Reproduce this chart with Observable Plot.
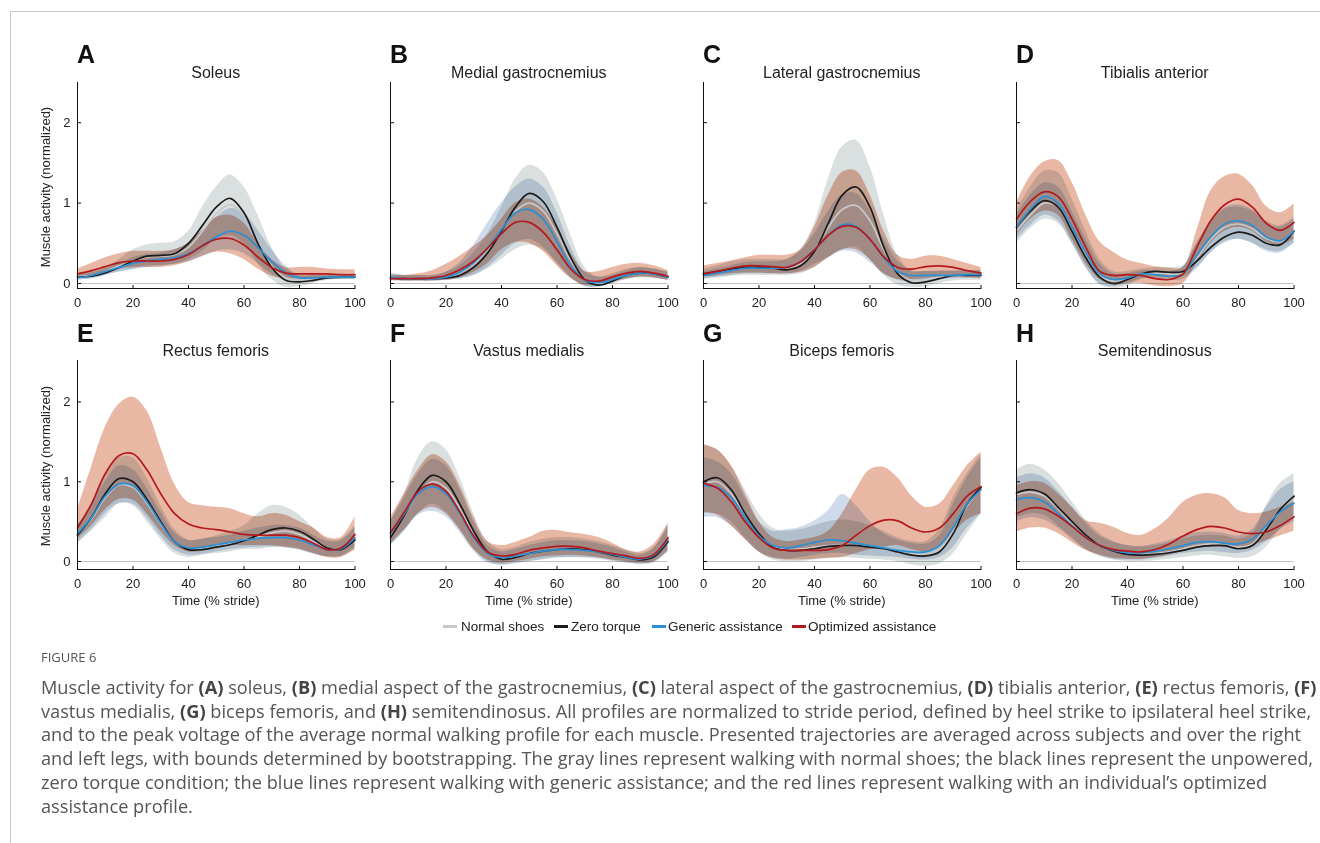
<!DOCTYPE html>
<html>
<head>
<meta charset="utf-8">
<script src="https://cdn.jsdelivr.net/npm/d3@7"></script>
<script src="https://cdn.jsdelivr.net/npm/@observablehq/plot@0.6"></script>
<style>
  html, body { margin: 0; padding: 0; background: #fff; }
  body { width: 1320px; height: 843px; position: relative; overflow: hidden; font-family: "Liberation Sans", Arial, sans-serif; color: #222; }
  .abs { position: absolute; white-space: nowrap; }
  .frame { position: absolute; left: 10px; top: 11px; width: 1310px; height: 832px; border-top: 1.5px solid #c6c6c6; border-left: 1.5px solid #c6c6c6; }
  .letter { font-weight: bold; font-size: 25px; line-height: 1; color: #111; }
  .title { font-size: 16px; line-height: 1; color: #222; transform: translateX(-50%); }
  .ylab { font-size: 13px; line-height: 1; transform: translate(-50%, -50%) rotate(-90deg); }
  .xlab { font-size: 13px; line-height: 1; transform: translate(-50%, -50%); }
  .leg { font-size: 13.5px; line-height: 1; transform: translateY(-50%); color: #222; }
  .sw { position: absolute; width: 14px; height: 3px; }
  .cap { font-family: "Open Sans", sans-serif; color: #555; }
  .cap b { font-weight: 700; color: #444; }
</style>
</head>
<body>
<div class="frame"></div>
<script>
// ---------- data ----------
const stride = [0,5,10,15,20,25,30,35,40,45,50,55,60,65,70,75,80,85,90,95,100];
const xTicks = [0,20,40,60,80,100];
const yTicks = [0,1,2];
const conditions = ["Normal shoes","Zero torque","Generic assistance","Optimized assistance"];
const panelLetters = ["A","B","C","D","E","F","G","H"];
const panelTitles = ["Soleus","Medial gastrocnemius","Lateral gastrocnemius","Tibialis anterior","Rectus femoris","Vastus medialis","Biceps femoris","Semitendinosus"];

// A Soleus
const soleusNormal = [0.09,0.10,0.15,0.22,0.28,0.33,0.34,0.36,0.45,0.65,0.87,0.98,0.85,0.52,0.22,0.07,0.04,0.05,0.07,0.08,0.08];
const soleusZero = [0.08,0.09,0.13,0.20,0.28,0.34,0.35,0.37,0.50,0.72,0.95,1.06,0.88,0.50,0.20,0.04,0.02,0.04,0.07,0.08,0.08];
const soleusGeneric = [0.07,0.10,0.15,0.20,0.25,0.28,0.30,0.32,0.37,0.47,0.58,0.65,0.60,0.45,0.27,0.13,0.07,0.07,0.08,0.08,0.08];
const soleusOptimized = [0.12,0.16,0.21,0.26,0.28,0.28,0.28,0.30,0.36,0.47,0.55,0.56,0.48,0.33,0.20,0.13,0.12,0.12,0.12,0.11,0.11];
const soleusNormalLo = [0.06,0.06,0.10,0.15,0.18,0.22,0.22,0.24,0.30,0.40,0.55,0.60,0.50,0.25,0.05,-0.05,-0.04,0.00,0.04,0.05,0.05];
const soleusNormalHi = [0.12,0.15,0.20,0.30,0.42,0.48,0.50,0.52,0.65,0.95,1.20,1.35,1.20,0.85,0.45,0.18,0.10,0.10,0.10,0.10,0.10];
const soleusGenericLo = [0.04,0.06,0.10,0.14,0.17,0.20,0.22,0.24,0.27,0.33,0.40,0.42,0.37,0.25,0.12,0.04,0.03,0.04,0.05,0.05,0.05];
const soleusGenericHi = [0.10,0.13,0.18,0.25,0.32,0.36,0.38,0.42,0.50,0.66,0.82,0.93,0.88,0.66,0.42,0.22,0.10,0.10,0.10,0.10,0.10];
const soleusOptimizedLo = [0.07,0.10,0.14,0.18,0.20,0.20,0.20,0.22,0.27,0.34,0.39,0.37,0.30,0.18,0.09,0.06,0.06,0.06,0.06,0.06,0.06];
const soleusOptimizedHi = [0.18,0.25,0.32,0.37,0.40,0.40,0.40,0.42,0.50,0.66,0.82,0.85,0.75,0.50,0.30,0.20,0.20,0.20,0.18,0.17,0.17];

// B Medial gastrocnemius
const medGasNormal = [0.08,0.06,0.06,0.06,0.08,0.13,0.24,0.42,0.66,0.90,1.00,0.90,0.62,0.28,0.06,0.00,0.04,0.10,0.13,0.12,0.08];
const medGasZero = [0.07,0.06,0.06,0.06,0.07,0.10,0.20,0.38,0.65,0.95,1.12,1.02,0.70,0.32,0.05,-0.02,0.03,0.10,0.13,0.12,0.08];
const medGasGeneric = [0.08,0.06,0.06,0.06,0.08,0.14,0.26,0.44,0.67,0.88,0.92,0.80,0.52,0.22,0.04,0.01,0.05,0.10,0.13,0.12,0.08];
const medGasOptimized = [0.06,0.06,0.06,0.07,0.10,0.17,0.28,0.44,0.62,0.76,0.76,0.64,0.42,0.18,0.05,0.03,0.08,0.13,0.15,0.13,0.09];
const medGasNormalLo = [0.04,0.03,0.03,0.03,0.04,0.06,0.10,0.18,0.30,0.42,0.48,0.42,0.26,0.08,-0.04,-0.05,0.00,0.05,0.07,0.07,0.04];
const medGasNormalHi = [0.13,0.10,0.10,0.10,0.14,0.22,0.38,0.62,0.95,1.30,1.47,1.38,1.05,0.60,0.20,0.08,0.12,0.18,0.20,0.18,0.14];
const medGasGenericLo = [0.04,0.03,0.03,0.03,0.04,0.06,0.10,0.20,0.35,0.50,0.55,0.45,0.25,0.07,-0.03,-0.04,0.00,0.05,0.08,0.07,0.04];
const medGasGenericHi = [0.12,0.10,0.10,0.10,0.14,0.26,0.48,0.75,1.00,1.20,1.30,1.20,0.88,0.45,0.15,0.08,0.10,0.16,0.20,0.18,0.14];
const medGasOptimizedLo = [0.03,0.03,0.03,0.03,0.04,0.07,0.14,0.25,0.42,0.51,0.50,0.40,0.22,0.06,-0.02,-0.02,0.02,0.06,0.08,0.07,0.04];
const medGasOptimizedHi = [0.10,0.10,0.12,0.16,0.24,0.34,0.46,0.60,0.80,1.00,1.05,0.95,0.70,0.38,0.15,0.15,0.20,0.24,0.25,0.22,0.16];

// C Lateral gastrocnemius
const latGasNormal = [0.11,0.14,0.17,0.19,0.19,0.19,0.19,0.25,0.42,0.70,0.92,0.97,0.78,0.42,0.14,0.04,0.05,0.08,0.10,0.10,0.10];
const latGasZero = [0.12,0.15,0.18,0.20,0.20,0.19,0.17,0.22,0.40,0.75,1.10,1.20,0.95,0.45,0.12,0.01,0.02,0.06,0.10,0.10,0.10];
const latGasGeneric = [0.10,0.13,0.16,0.19,0.19,0.19,0.20,0.27,0.42,0.60,0.73,0.71,0.55,0.32,0.15,0.10,0.10,0.10,0.10,0.11,0.11];
const latGasOptimized = [0.12,0.15,0.19,0.22,0.22,0.21,0.20,0.27,0.42,0.60,0.71,0.70,0.55,0.33,0.20,0.18,0.21,0.22,0.20,0.16,0.13];
const latGasNormalLo = [0.05,0.07,0.09,0.10,0.10,0.10,0.10,0.12,0.20,0.32,0.42,0.45,0.30,0.10,-0.02,-0.05,-0.04,0.00,0.03,0.04,0.04];
const latGasNormalHi = [0.18,0.22,0.27,0.30,0.30,0.30,0.30,0.42,0.75,1.30,1.70,1.78,1.45,0.85,0.35,0.15,0.15,0.16,0.16,0.16,0.16];
const latGasGenericLo = [0.06,0.08,0.10,0.12,0.12,0.12,0.12,0.15,0.24,0.32,0.40,0.38,0.26,0.12,0.04,0.02,0.03,0.05,0.06,0.07,0.07];
const latGasGenericHi = [0.15,0.18,0.22,0.26,0.27,0.27,0.30,0.40,0.62,0.90,1.10,1.12,0.90,0.55,0.28,0.16,0.15,0.15,0.15,0.16,0.16];
const latGasOptimizedLo = [0.08,0.10,0.12,0.13,0.13,0.12,0.12,0.14,0.20,0.32,0.42,0.42,0.30,0.12,0.05,0.05,0.06,0.08,0.08,0.07,0.06];
const latGasOptimizedHi = [0.22,0.25,0.28,0.32,0.35,0.35,0.35,0.42,0.70,1.10,1.38,1.40,1.10,0.65,0.35,0.30,0.34,0.34,0.30,0.25,0.20];

// D Tibialis anterior
const tibNormal = [0.65,0.85,1.00,0.95,0.68,0.36,0.10,0.03,0.06,0.12,0.13,0.12,0.13,0.32,0.55,0.70,0.74,0.68,0.56,0.52,0.62];
const tibZero = [0.70,0.90,1.03,0.95,0.65,0.32,0.08,0.00,0.05,0.12,0.15,0.14,0.15,0.28,0.45,0.58,0.64,0.60,0.50,0.48,0.65];
const tibGeneric = [0.70,0.92,1.08,1.00,0.70,0.38,0.12,0.05,0.07,0.12,0.11,0.09,0.12,0.35,0.58,0.74,0.78,0.72,0.58,0.53,0.65];
const tibOptimized = [0.80,1.02,1.14,1.08,0.80,0.45,0.15,0.10,0.11,0.10,0.06,0.05,0.12,0.45,0.78,0.98,1.05,0.95,0.75,0.66,0.76];
const tibNormalLo = [0.50,0.68,0.80,0.75,0.50,0.20,-0.02,-0.06,-0.03,0.05,0.08,0.08,0.08,0.20,0.38,0.50,0.55,0.50,0.42,0.40,0.50];
const tibNormalHi = [0.90,1.20,1.40,1.38,1.05,0.65,0.30,0.15,0.15,0.18,0.20,0.20,0.22,0.50,0.75,0.92,0.95,0.90,0.78,0.72,0.82];
const tibGenericLo = [0.55,0.72,0.85,0.78,0.50,0.20,0.00,-0.04,0.00,0.06,0.06,0.04,0.05,0.18,0.38,0.52,0.55,0.50,0.40,0.38,0.50];
const tibGenericHi = [0.85,1.10,1.25,1.20,0.90,0.55,0.25,0.12,0.12,0.16,0.16,0.15,0.20,0.50,0.78,0.94,0.98,0.92,0.75,0.70,0.80];
const tibOptimizedLo = [0.60,0.80,0.90,0.85,0.55,0.25,0.05,-0.02,0.00,0.00,-0.03,-0.04,0.00,0.25,0.50,0.65,0.70,0.65,0.52,0.48,0.55];
const tibOptimizedHi = [1.00,1.33,1.51,1.53,1.26,0.85,0.52,0.39,0.29,0.25,0.21,0.19,0.20,0.66,1.15,1.33,1.36,1.22,0.96,0.88,0.99];

// E Rectus femoris
const rectNormal = [0.33,0.53,0.80,0.96,0.93,0.73,0.47,0.25,0.16,0.17,0.20,0.23,0.27,0.31,0.36,0.38,0.34,0.25,0.16,0.15,0.27];
const rectZero = [0.33,0.55,0.85,1.04,1.00,0.78,0.50,0.25,0.15,0.15,0.18,0.21,0.26,0.33,0.40,0.42,0.38,0.28,0.17,0.15,0.27];
const rectGeneric = [0.35,0.55,0.82,0.97,0.95,0.75,0.48,0.25,0.17,0.18,0.21,0.24,0.27,0.29,0.30,0.30,0.27,0.21,0.15,0.16,0.30];
const rectOptimized = [0.42,0.72,1.10,1.33,1.35,1.15,0.85,0.60,0.47,0.42,0.40,0.37,0.34,0.33,0.33,0.33,0.30,0.23,0.15,0.17,0.34];
const rectNormalLo = [0.22,0.38,0.55,0.72,0.70,0.50,0.28,0.10,0.05,0.08,0.10,0.12,0.15,0.15,0.18,0.18,0.16,0.10,0.06,0.06,0.15];
const rectNormalHi = [0.45,0.70,1.05,1.30,1.30,1.05,0.70,0.40,0.27,0.28,0.32,0.38,0.45,0.60,0.70,0.68,0.58,0.42,0.28,0.28,0.45];
const rectGenericLo = [0.24,0.40,0.60,0.73,0.72,0.55,0.32,0.14,0.08,0.09,0.12,0.15,0.17,0.18,0.18,0.17,0.14,0.09,0.06,0.07,0.18];
const rectGenericHi = [0.45,0.70,1.00,1.20,1.15,0.92,0.62,0.36,0.26,0.28,0.30,0.33,0.38,0.42,0.45,0.45,0.42,0.33,0.25,0.26,0.42];
const rectOptimizedLo = [0.28,0.45,0.65,0.78,0.77,0.60,0.38,0.20,0.12,0.13,0.17,0.20,0.20,0.20,0.20,0.18,0.15,0.10,0.05,0.05,0.15];
const rectOptimizedHi = [0.65,1.18,1.68,1.97,2.06,1.89,1.43,0.97,0.74,0.70,0.68,0.66,0.60,0.56,0.60,0.58,0.50,0.42,0.30,0.30,0.56];

// F Vastus medialis
const vastNormal = [0.32,0.58,0.86,1.00,0.92,0.66,0.34,0.11,0.04,0.06,0.10,0.13,0.15,0.16,0.15,0.12,0.09,0.05,0.03,0.07,0.26];
const vastZero = [0.30,0.58,0.90,1.08,1.00,0.72,0.38,0.12,0.03,0.05,0.10,0.13,0.15,0.16,0.15,0.12,0.08,0.05,0.02,0.06,0.25];
const vastGeneric = [0.35,0.60,0.85,0.94,0.85,0.60,0.30,0.10,0.05,0.07,0.10,0.13,0.15,0.15,0.14,0.12,0.09,0.05,0.03,0.08,0.28];
const vastOptimized = [0.36,0.62,0.88,0.97,0.88,0.62,0.32,0.12,0.07,0.09,0.14,0.17,0.19,0.19,0.17,0.13,0.10,0.07,0.04,0.09,0.30];
const vastNormalLo = [0.20,0.38,0.60,0.72,0.62,0.40,0.16,0.00,-0.05,-0.03,0.00,0.02,0.04,0.05,0.04,0.03,0.00,-0.02,-0.04,-0.02,0.12];
const vastNormalHi = [0.50,0.85,1.30,1.50,1.40,1.05,0.60,0.25,0.15,0.18,0.24,0.28,0.30,0.30,0.28,0.25,0.20,0.15,0.10,0.18,0.45];
const vastGenericLo = [0.20,0.38,0.58,0.63,0.56,0.36,0.13,-0.02,-0.04,-0.02,0.00,0.03,0.05,0.05,0.05,0.04,0.01,-0.02,-0.03,-0.01,0.12];
const vastGenericHi = [0.50,0.80,1.10,1.28,1.20,0.90,0.50,0.20,0.12,0.15,0.20,0.24,0.26,0.26,0.25,0.22,0.18,0.12,0.08,0.17,0.45];
const vastOptimizedLo = [0.22,0.40,0.60,0.68,0.60,0.40,0.15,0.02,-0.02,0.00,0.03,0.06,0.07,0.08,0.07,0.05,0.02,0.00,-0.02,0.00,0.14];
const vastOptimizedHi = [0.55,0.85,1.15,1.34,1.25,0.95,0.55,0.25,0.20,0.24,0.30,0.38,0.39,0.36,0.34,0.30,0.23,0.14,0.12,0.22,0.48];

// G Biceps femoris
const bicNormal = [0.97,1.00,0.85,0.58,0.34,0.19,0.15,0.16,0.18,0.20,0.20,0.20,0.19,0.17,0.13,0.10,0.09,0.15,0.38,0.70,0.92];
const bicZero = [1.00,1.05,0.90,0.60,0.35,0.18,0.14,0.14,0.16,0.19,0.20,0.20,0.18,0.16,0.12,0.08,0.07,0.12,0.35,0.72,0.93];
const bicGeneric = [0.95,0.93,0.80,0.55,0.32,0.20,0.17,0.20,0.24,0.27,0.26,0.23,0.20,0.17,0.14,0.12,0.12,0.20,0.43,0.72,0.90];
const bicOptimized = [0.98,0.92,0.75,0.50,0.30,0.17,0.14,0.14,0.14,0.15,0.20,0.33,0.45,0.52,0.51,0.42,0.37,0.42,0.60,0.82,0.94];
const bicNormalLo = [0.60,0.60,0.50,0.30,0.12,0.02,0.00,0.00,0.02,0.04,0.05,0.04,0.03,0.02,0.00,-0.04,-0.06,-0.03,0.10,0.35,0.60];
const bicNormalHi = [1.45,1.40,1.20,0.90,0.60,0.42,0.38,0.40,0.45,0.50,0.52,0.50,0.45,0.38,0.30,0.25,0.25,0.40,0.80,1.10,1.35];
const bicGenericLo = [0.55,0.55,0.45,0.28,0.12,0.05,0.03,0.05,0.08,0.10,0.10,0.08,0.07,0.06,0.05,0.03,0.02,0.05,0.18,0.42,0.60];
const bicGenericHi = [1.30,1.25,1.10,0.80,0.50,0.38,0.40,0.43,0.51,0.64,0.84,0.70,0.50,0.35,0.27,0.23,0.22,0.32,0.72,1.05,1.30];
const bicOptimizedLo = [0.62,0.58,0.45,0.28,0.12,0.04,0.02,0.02,0.03,0.04,0.05,0.10,0.15,0.18,0.20,0.15,0.12,0.18,0.35,0.52,0.60];
const bicOptimizedHi = [1.47,1.40,1.20,0.85,0.50,0.30,0.25,0.27,0.30,0.38,0.60,0.90,1.15,1.18,1.05,0.82,0.68,0.72,0.95,1.20,1.37];

// H Semitendinosus
const semNormal = [0.84,0.87,0.82,0.66,0.48,0.32,0.20,0.13,0.10,0.09,0.10,0.12,0.16,0.20,0.22,0.21,0.18,0.22,0.42,0.65,0.80];
const semZero = [0.86,0.90,0.85,0.68,0.50,0.33,0.20,0.13,0.09,0.08,0.09,0.11,0.14,0.18,0.20,0.20,0.16,0.20,0.40,0.65,0.82];
const semGeneric = [0.78,0.80,0.75,0.60,0.45,0.30,0.20,0.14,0.11,0.11,0.13,0.16,0.20,0.24,0.25,0.23,0.22,0.28,0.45,0.62,0.73];
const semOptimized = [0.60,0.67,0.66,0.57,0.44,0.30,0.20,0.15,0.13,0.12,0.15,0.22,0.32,0.40,0.44,0.42,0.37,0.35,0.37,0.45,0.56];
const semNormalLo = [0.55,0.60,0.58,0.45,0.30,0.15,0.06,0.02,0.00,0.00,0.01,0.03,0.05,0.07,0.08,0.06,0.04,0.06,0.18,0.40,0.55];
const semNormalHi = [1.15,1.22,1.15,0.98,0.75,0.52,0.35,0.25,0.20,0.18,0.20,0.23,0.28,0.32,0.33,0.32,0.28,0.35,0.70,0.98,1.10];
const semGenericLo = [0.50,0.55,0.52,0.42,0.28,0.15,0.08,0.03,0.02,0.02,0.04,0.07,0.10,0.12,0.13,0.11,0.10,0.14,0.25,0.40,0.50];
const semGenericHi = [1.05,1.10,1.05,0.88,0.68,0.48,0.32,0.24,0.20,0.19,0.22,0.26,0.32,0.36,0.37,0.35,0.32,0.40,0.68,0.90,1.00];
const semOptimizedLo = [0.37,0.42,0.42,0.35,0.24,0.14,0.08,0.04,0.03,0.03,0.05,0.08,0.13,0.17,0.18,0.18,0.18,0.20,0.26,0.32,0.38];
const semOptimizedHi = [0.95,1.00,0.98,0.85,0.68,0.51,0.48,0.43,0.35,0.33,0.41,0.55,0.74,0.83,0.85,0.80,0.64,0.60,0.62,0.68,0.75];

// ---------- assemble ----------
const panelLines = [
  [soleusNormal, soleusZero, soleusGeneric, soleusOptimized],
  [medGasNormal, medGasZero, medGasGeneric, medGasOptimized],
  [latGasNormal, latGasZero, latGasGeneric, latGasOptimized],
  [tibNormal, tibZero, tibGeneric, tibOptimized],
  [rectNormal, rectZero, rectGeneric, rectOptimized],
  [vastNormal, vastZero, vastGeneric, vastOptimized],
  [bicNormal, bicZero, bicGeneric, bicOptimized],
  [semNormal, semZero, semGeneric, semOptimized]
];
const panelBands = [
  [[soleusNormalLo, soleusNormalHi],[soleusGenericLo, soleusGenericHi],[soleusOptimizedLo, soleusOptimizedHi]],
  [[medGasNormalLo, medGasNormalHi],[medGasGenericLo, medGasGenericHi],[medGasOptimizedLo, medGasOptimizedHi]],
  [[latGasNormalLo, latGasNormalHi],[latGasGenericLo, latGasGenericHi],[latGasOptimizedLo, latGasOptimizedHi]],
  [[tibNormalLo, tibNormalHi],[tibGenericLo, tibGenericHi],[tibOptimizedLo, tibOptimizedHi]],
  [[rectNormalLo, rectNormalHi],[rectGenericLo, rectGenericHi],[rectOptimizedLo, rectOptimizedHi]],
  [[vastNormalLo, vastNormalHi],[vastGenericLo, vastGenericHi],[vastOptimizedLo, vastOptimizedHi]],
  [[bicNormalLo, bicNormalHi],[bicGenericLo, bicGenericHi],[bicOptimizedLo, bicOptimizedHi]],
  [[semNormalLo, semNormalHi],[semGenericLo, semGenericHi],[semOptimizedLo, semOptimizedHi]]
];

const lineColors = ["#c9c9c9", "#1b1b1b", "#2a8fd4", "#b3191d"];
const bandColors = ["#dadfdf", "#cfdbeb", "#e9b8a5"];
const colX = [77, 390, 703, 1016];
const plotW = 277.5;
const rowCfg = [
  { top: 76, height: 242, mb: 30, ydom: [-0.062, 2.5] },
  { top: 354, height: 245, mb: 30, ydom: [-0.1, 2.52] }
];
const ML = 40, MR = 15;

function addDiv(cls, html, left, top, extra) {
  const d = document.createElement("div");
  d.className = "abs " + cls;
  d.innerHTML = html;
  d.style.left = left + "px";
  d.style.top = top + "px";
  if (extra) Object.assign(d.style, extra);
  document.body.appendChild(d);
  return d;
}

for (let i = 0; i < 8; i++) {
  const row = Math.floor(i / 4), col = i % 4;
  const rc = rowCfg[row];
  const x0 = colX[col];
  const showY = col === 0;
  const marks = [];
  marks.push(Plot.ruleY([0], { stroke: "#c2c2c2", strokeWidth: 1 }));
  panelBands[i].forEach(([lo, hi], k) => {
    const rows = stride.map((s, j) => ({ x: s, lo: lo[j], hi: hi[j] }));
    marks.push(Plot.areaY(rows, { x: "x", y1: "lo", y2: "hi", fill: bandColors[k], fillOpacity: 1, mixBlendMode: "multiply", curve: "catmull-rom" }));
  });
  panelLines[i].forEach((vals, k) => {
    const rows = stride.map((s, j) => ({ x: s, y: vals[j] }));
    marks.push(Plot.line(rows, { x: "x", y: "y", stroke: lineColors[k], strokeWidth: 1.7, curve: "catmull-rom" }));
  });
  marks.push(Plot.frame({ anchor: "left", stroke: "#111", strokeWidth: 1 }));
  marks.push(Plot.frame({ anchor: "bottom", stroke: "#111", strokeWidth: 1 }));
  marks.push(Plot.axisX(xTicks, { tickSize: -3, tickPadding: 12, fontSize: 13, label: null, stroke: "#111", strokeWidth: 1 }));
  marks.push(Plot.axisY(yTicks, { tickSize: -4, tickPadding: 11, fontSize: 13, label: null, stroke: "#111", strokeWidth: 1,
    tickFormat: showY ? (d => String(d)) : (() => "") }));

  const chart = Plot.plot({
    width: ML + plotW + MR,
    height: rc.height,
    marginLeft: ML, marginRight: MR, marginTop: 6, marginBottom: rc.mb,
    x: { domain: [0, 100] },
    y: { domain: rc.ydom },
    style: { background: "transparent", overflow: "visible", fontFamily: "'Liberation Sans', Arial, sans-serif", color: "#222" },
    marks
  });
  const holder = document.createElement("div");
  holder.style.position = "absolute";
  holder.style.left = (x0 - ML) + "px";
  holder.style.top = rc.top + "px";
  holder.appendChild(chart);
  document.body.appendChild(holder);

  const letterTop = row === 0 ? 41.8 : 320.5;
  const titleTop = row === 0 ? 64.5 : 342.5;
  addDiv("letter", panelLetters[i], x0, letterTop);
  addDiv("title", panelTitles[i], x0 + plotW / 2, titleTop);
  if (showY) addDiv("ylab", "Muscle activity (normalized)", 45, row === 0 ? 187 : 466);
  if (row === 1) addDiv("xlab", "Time (% stride)", x0 + plotW / 2, 600);
}

// legend
const legSw = [443, 554, 652, 792];
const legTx = [461, 571, 668, 808];
conditions.forEach((c, k) => {
  const s = document.createElement("div");
  s.className = "sw";
  s.style.left = legSw[k] + "px";
  s.style.top = "625px";
  s.style.background = lineColors[k];
  document.body.appendChild(s);
  addDiv("leg", c, legTx[k], 626.5);
});

// caption
addDiv("cap", "FIGURE 6", 41, 651, { fontSize: "13px", lineHeight: "1", color: "#555" });
const capLines = [
  "Muscle activity for <b>(A)</b> soleus, <b>(B)</b> medial aspect of the gastrocnemius, <b>(C)</b> lateral aspect of the gastrocnemius, <b>(D)</b> tibialis anterior, <b>(E)</b> rectus femoris, <b>(F)</b>",
  "vastus medialis, <b>(G)</b> biceps femoris, and <b>(H)</b> semitendinosus. All profiles are normalized to stride period, defined by heel strike to ipsilateral heel strike,",
  "and to the peak voltage of the average normal walking profile for each muscle. Presented trajectories are averaged across subjects and over the right",
  "and left legs, with bounds determined by bootstrapping. The gray lines represent walking with normal shoes; the black lines represent the unpowered,",
  "zero torque condition; the blue lines represent walking with generic assistance; and the red lines represent walking with an individual’s optimized",
  "assistance profile."
];
const capDivs = capLines.map((t, k) =>
  addDiv("cap", t, 41, 687 + k * 23.7, { fontSize: "16px", lineHeight: "1", transform: "translateY(-50%)" }));
// fit the first caption line to the width it spans in the figure
const w0 = capDivs[0].getBoundingClientRect().width;
const fitSize = 16 * 1277 / w0;
capDivs.forEach(d => { d.style.fontSize = fitSize + "px"; });
</script>
</body>
</html>
